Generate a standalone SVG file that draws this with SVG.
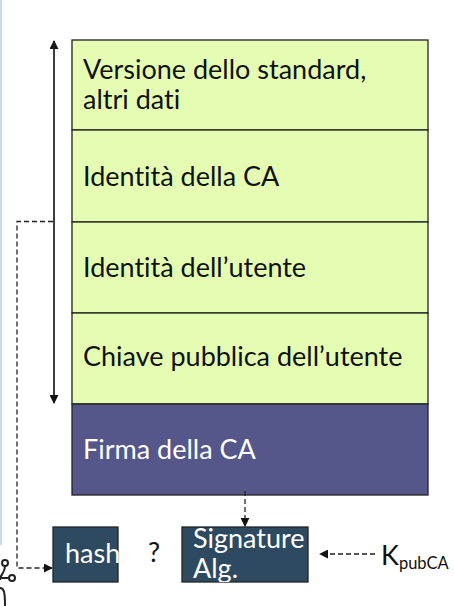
<svg xmlns="http://www.w3.org/2000/svg" width="454" height="606" viewBox="0 0 454 606">
<style>
.row{fill:#e4fdb2;stroke:#222;stroke-width:1.3}
.sig{fill:#55568a;stroke:#222;stroke-width:1.3}
.dk{fill:#2e4a60;stroke:#222;stroke-width:1.3}
.t{font-family:Lato,"Open Sans","Noto Sans",sans-serif;font-size:27px;fill:#111;font-variant-ligatures:none}
.w{fill:#fff}
.dash{fill:none;stroke:#222;stroke-width:1.3;stroke-dasharray:5 3}
.solid{fill:none;stroke:#222;stroke-width:1.3}
</style>
<defs>
<marker id="ah" viewBox="0 0 10 10" refX="9" refY="5" markerWidth="9" markerHeight="9" markerUnits="userSpaceOnUse" orient="auto"><path d="M0,0L10,5L0,10z" fill="#111"/></marker>
<clipPath id="cs"><rect x="182" y="527" width="126" height="55"/></clipPath>
</defs>
<rect x="0" y="0" width="2" height="545" fill="#bfe0ea"/>
<g id="icon" fill="none" stroke="#222" stroke-width="2">
<circle cx="5" cy="563" r="3"/>
<path d="M5,566 C5,574 0,574 0,580"/>
<path d="M0,578 H9"/>
<circle cx="12" cy="578" r="3"/>
<path d="M0,588 C4,588 5,592 5,606"/>
</g>
<g id="n1"><rect class="row" x="72" y="40" width="356" height="90"/>
<text class="t" x="83" y="79">Versione dello standard,</text>
<text class="t" x="83" y="109">altri dati</text></g>
<g id="n2"><rect class="row" x="72" y="130" width="356" height="92"/>
<text class="t" x="83" y="186">Identità della CA</text></g>
<g id="n3"><rect class="row" x="72" y="222" width="356" height="91"/>
<text class="t" x="83" y="277">Identità dell’utente</text></g>
<g id="n4"><rect class="row" x="72" y="313" width="356" height="91"/>
<text class="t" x="83" y="366">Chiave pubblica dell’utente</text></g>
<g id="n5"><rect class="sig" x="72" y="404" width="356" height="91"/>
<text class="t w" x="83" y="459">Firma della CA</text></g>
<g id="hash"><rect class="dk" x="53" y="527" width="65" height="55"/>
<text class="t w" x="65" y="563">hash</text></g>
<g id="q"><text class="t" x="148" y="562" fill="#2a1d10">?</text></g>
<g id="siga"><rect class="dk" x="182" y="527" width="126" height="55"/>
<g clip-path="url(#cs)"><text class="t w" x="193" y="548">Signature</text>
<text class="t w" x="193" y="578">Alg.</text></g></g>
<g id="k"><text class="t" x="381" y="565" font-size="27">K<tspan font-size="16.5" dy="4">pubCA</tspan></text></g>
<g id="connectors">
<path class="solid" d="M54,403 V41" marker-end="url(#ah)"/>
<path class="solid" d="M54,41 V403" marker-end="url(#ah)"/>
<path class="dash" d="M53,221.5 H17 V568 H52" marker-end="url(#ah)"/>
<path class="dash" d="M245,491 V526" marker-end="url(#ah)"/>
<path class="dash" d="M375,554 H320" marker-end="url(#ah)"/>
</g>
</svg>
